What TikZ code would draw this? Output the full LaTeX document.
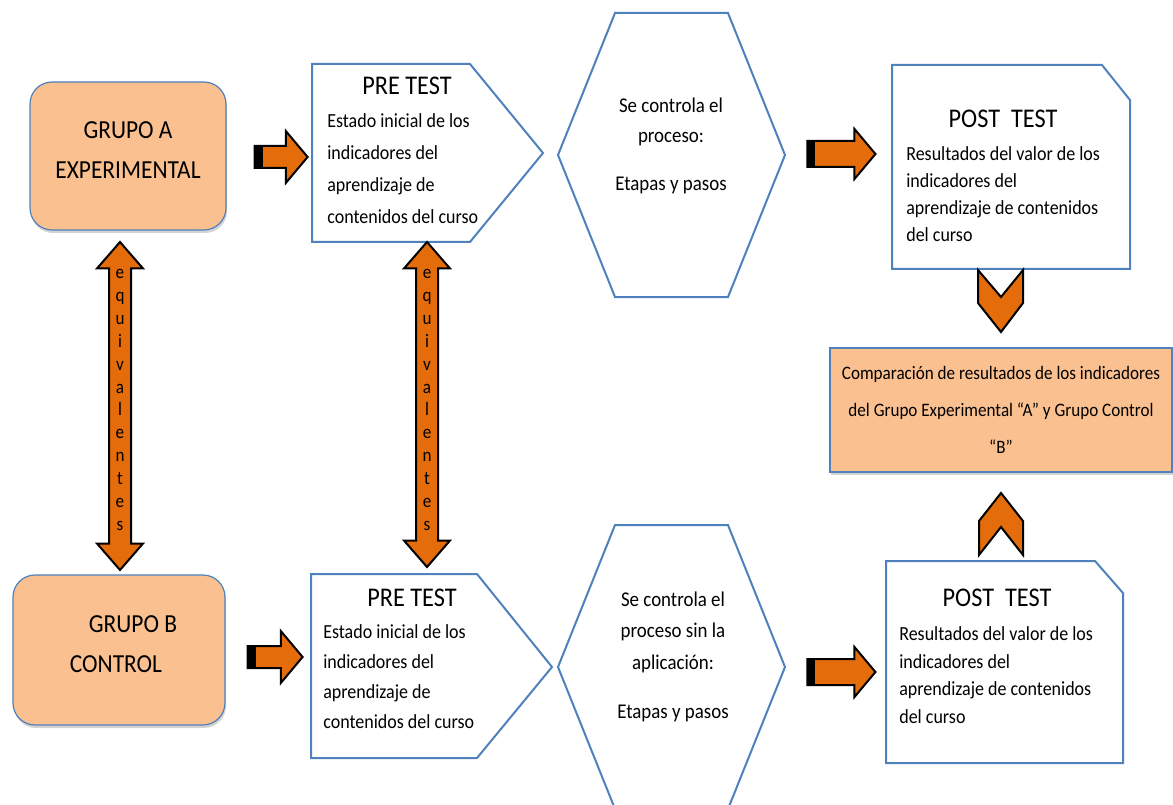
\documentclass[tikz,border=0pt]{standalone}
\usepackage{fontspec}
\setmainfont{Carlito}[FakeStretch=0.9]
\usetikzlibrary{shapes.arrows,shadows}
\definecolor{naranja}{HTML}{E46C0A}
\definecolor{durazno}{HTML}{FAC090}
\definecolor{azul}{HTML}{4F81BD}

\begin{document}
\begin{tikzpicture}
[x=1pt,y=-1pt,semithick]

  \tikzstyle{grupo}=[draw=azul,line width=1.2pt,fill=durazno,rounded corners=22pt,
    align=center,font=\fontsize{26}{40}\selectfont,
    drop shadow={opacity=0.35,shadow xshift=1pt,shadow yshift=-3pt}]
  \tikzstyle{caja}=[draw=azul,line width=2pt,fill=white]
  \tikzstyle{titulo}=[font=\fontsize{27}{30}\selectfont,inner sep=0pt]
  \tikzstyle{cuerpo}=[align=left,inner sep=0pt,anchor=west]
  \tikzstyle{flecha}=[single arrow,draw=black,line width=2pt,fill=naranja,
    single arrow head extend=15pt,single arrow tip angle=100,
    inner xsep=0pt,inner ysep=10pt,
    path picture={\fill[black] (path picture bounding box.north west)
      rectangle ([xshift=8pt]path picture bounding box.south west);}]
  \tikzstyle{dobleflecha}=[double arrow,draw=black,line width=2pt,fill=naranja,
    double arrow head extend=12pt,double arrow tip angle=82,
    inner xsep=0pt,inner ysep=10pt,rotate=90]
  \tikzstyle{letras}=[align=center,font=\fontsize{19}{22.9}\selectfont,inner sep=0pt]
  \tikzstyle{chevron}=[draw=black,line width=2pt,fill=naranja,line join=miter]

  \useasboundingbox (0,0) rectangle (1173,805);

  % grupo A (arriba)
  \node[grupo,minimum width=196pt,minimum height=148pt] (grupoA) at (128,156)
    {GRUPO A\\EXPERIMENTAL\rule[-12pt]{0pt}{12pt}};
  \node[flecha,minimum height=53pt] (flA1) at (276.5,157) {};

  \draw[caja] (312,64) -- (470,64) -- (543,153) -- (470,242) -- (312,242) -- cycle;
  \node[titulo] (preA) at (407,86) {PRE TEST};
  \node[cuerpo,font=\fontsize{20}{32}\selectfont] (preAt) at (327,169)
    {Estado inicial de los\\indicadores del\\aprendizaje de\\contenidos del curso};

  \draw[caja] (615,13) -- (728,13) -- (785,155) -- (728,297) -- (615,297) -- (558,155) -- cycle;
  \node[align=center,font=\fontsize{21}{30}\selectfont] (procA) at (671,146)
    {Se controla el\\proceso:\\[18pt]Etapas y pasos};

  \node[flecha,minimum height=68pt,inner ysep=12pt,single arrow head extend=12pt] (flA2) at (836,154) {};

  \draw[caja] (892,65) -- (1102,65) -- (1130,100) -- (1130,269) -- (892,269) -- cycle;
  \node[titulo] (postA) at (1003,119) {POST~~TEST};
  \node[cuerpo,font=\fontsize{20}{27}\selectfont] (postAt) at (906,194)
    {Resultados del valor de los\\indicadores del\\aprendizaje de contenidos\\del curso};

  % comparacion
  \draw[chevron] (978,270) -- (1001,297) -- (1023,270) -- (1023,303) -- (1001,332) -- (978,303) -- cycle;
  \node[draw=azul,line width=1.5pt,fill=durazno,minimum width=342pt,minimum height=124pt,
    align=center,font=\fontsize{19}{37}\selectfont,
    drop shadow={opacity=0.35,shadow xshift=1pt,shadow yshift=-3pt}] (comp) at (1001,410)
    {Comparación de resultados de los indicadores\\del Grupo Experimental “A” y Grupo Control\\“B”};
  \draw[chevron] (979,555) -- (1001,527) -- (1023,555) -- (1023,521) -- (1001,493) -- (979,521) -- cycle;

  % equivalentes
  \node[dobleflecha,minimum height=328pt] (eqA) at (120,406) {};
  \node[letras] (eqAt) at (120,400) {e\\q\\u\\i\\v\\a\\l\\e\\n\\t\\e\\s};
  \node[dobleflecha,minimum height=325pt] (eqB) at (427,404.5) {};
  \node[letras] (eqBt) at (427,400) {e\\q\\u\\i\\v\\a\\l\\e\\n\\t\\e\\s};

  % grupo B (abajo)
  \node[grupo,minimum width=212pt,minimum height=150pt] (grupoB) at (119,650)
    {\hspace*{28pt}GRUPO B\\CONTROL\hspace*{6pt}\rule[-12pt]{0pt}{12pt}};
  \node[flecha,minimum height=55pt] (flB1) at (270.5,657) {};

  \draw[caja] (311,574) -- (477,574) -- (552,667) -- (477,758) -- (311,758) -- cycle;
  \node[titulo] (preB) at (412,598) {PRE TEST};
  \node[cuerpo,font=\fontsize{20}{30}\selectfont] (preBt) at (323,677)
    {Estado inicial de los\\indicadores del\\aprendizaje de\\contenidos del curso};

  \draw[caja] (615,525) -- (728,525) -- (785,667) -- (728,809) -- (615,809) -- (558,667) -- cycle;
  \node[align=center,font=\fontsize{21}{31.5}\selectfont] (procB) at (673,657)
    {Se controla el\\proceso sin la\\aplicación:\\[18pt]Etapas y pasos};

  \node[flecha,minimum height=68pt,inner ysep=12pt,single arrow head extend=12pt] (flB2) at (836,672) {};

  \draw[caja] (886,561) -- (1095,561) -- (1123,593) -- (1123,763) -- (886,763) -- cycle;
  \node[titulo] (postB) at (997,598) {POST~~TEST};
  \node[cuerpo,font=\fontsize{20}{27.5}\selectfont] (postBt) at (899,675)
    {Resultados del valor de los\\indicadores del\\aprendizaje de contenidos\\del curso};
\end{tikzpicture}
\end{document}
